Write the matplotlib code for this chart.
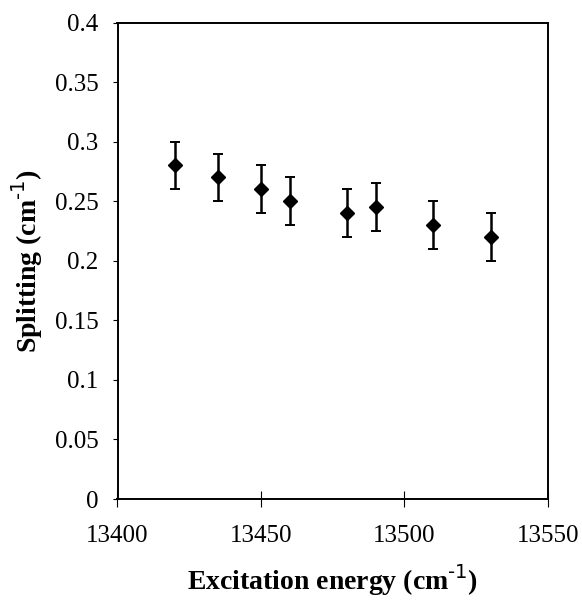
import matplotlib
matplotlib.use("Agg")
import matplotlib.pyplot as plt

energy = [13420, 13435, 13450, 13460, 13480, 13490, 13510, 13530]
splitting = [0.28, 0.27, 0.26, 0.25, 0.24, 0.245, 0.23, 0.22]
err = [0.02, 0.02, 0.02, 0.02, 0.02, 0.02, 0.02, 0.02]

xticks = [13400, 13450, 13500, 13550]
yticks = [0, 0.05, 0.1, 0.15, 0.2, 0.25, 0.3, 0.35, 0.4]
ytick_labels = ["0", "0.05", "0.1", "0.15", "0.2", "0.25", "0.3", "0.35", "0.4"]

plt.rcParams['font.family'] = ['Liberation Serif', 'DejaVu Serif']

fig = plt.figure(figsize=(5.82, 6.0), dpi=100)
ax = fig.add_axes([117.5 / 582, 1 - 499 / 600, 430.5 / 582, 476.5 / 600])

ax.errorbar(energy, splitting, yerr=err, fmt='D', color='black', ms=7,
            ecolor='black', elinewidth=1.8, capsize=3.5, capthick=1.4)

ax.set_xlim(13400, 13550)
ax.set_ylim(0, 0.4)
ax.set_xticks(xticks)
ax.set_xticklabels([str(t) for t in xticks])
ax.set_yticks(yticks)
ax.set_yticklabels(ytick_labels)

ax.tick_params(axis='x', direction='inout', length=11, width=0.8, labelsize=18, pad=13)
ax.tick_params(axis='y', direction='out', length=3.5, width=0.8, labelsize=18, pad=10)
for s in ax.spines.values():
    s.set_linewidth(1.4)

ax.set_xlabel('Excitation energy (cm$^{\\text{-1}}$)', fontsize=20, fontweight='bold', labelpad=11)
ax.set_ylabel('Splitting (cm$^{\\text{-1}}$)', fontsize=20, fontweight='bold', labelpad=7)

fig.savefig('out.png', dpi=100)
